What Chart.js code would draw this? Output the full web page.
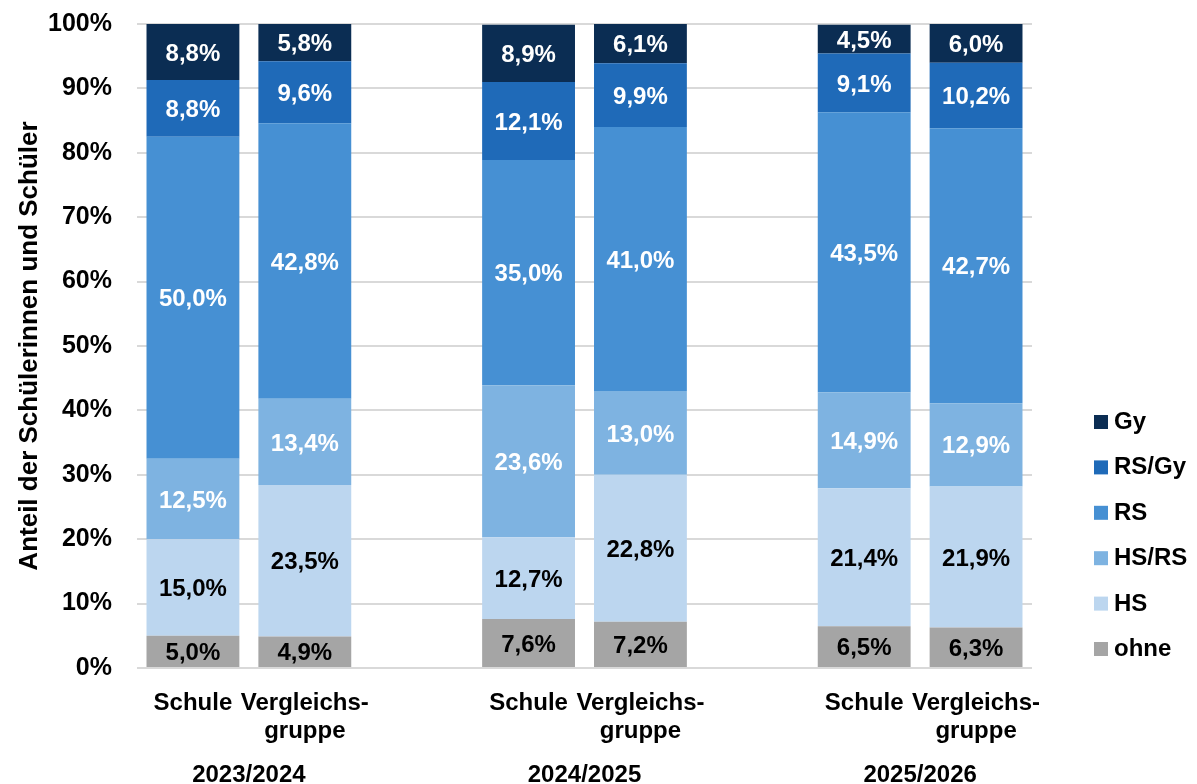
<!DOCTYPE html>
<html>
<head>
<meta charset="utf-8">
<script src="https://cdn.jsdelivr.net/npm/chart.js@4"></script>
<style>
  html, body { margin: 0; padding: 0; background: #ffffff; }
  #wrap { width: 1197px; height: 784px; position: relative; }
</style>
</head>
<body>
<div id="wrap"><canvas id="c" width="1197" height="784"></canvas></div>
<script>
const categories = ['Schule', ['Vergleichs-', 'gruppe'], '', 'Schule', ['Vergleichs-', 'gruppe'], '', 'Schule', ['Vergleichs-', 'gruppe']];
const years = ['2023/2024', '2024/2025', '2025/2026'];
const yearSlots = [[0, 1], [3, 4], [6, 7]];
const seriesNames = ['ohne', 'HS', 'HS/RS', 'RS', 'RS/Gy', 'Gy'];
const ohne = [5.0, 4.9, null, 7.6, 7.2, null, 6.5, 6.3];
const hs = [15.0, 23.5, null, 12.7, 22.8, null, 21.4, 21.9];
const hsrs = [12.5, 13.4, null, 23.6, 13.0, null, 14.9, 12.9];
const rs = [50.0, 42.8, null, 35.0, 41.0, null, 43.5, 42.7];
const rsgy = [8.8, 9.6, null, 12.1, 9.9, null, 9.1, 10.2];
const gy = [8.8, 5.8, null, 8.9, 6.1, null, 4.5, 6.0];
const yTicks = [0, 10, 20, 30, 40, 50, 60, 70, 80, 90, 100];

const colors = ['#A5A5A5', '#BCD6EF', '#7EB3E1', '#4690D3', '#1F6AB8', '#0B2D53'];
const labelColors = ['#000000', '#000000', '#ffffff', '#ffffff', '#ffffff', '#ffffff'];
const seriesData = [ohne, hs, hsrs, rs, rsgy, gy];
const FONT = '"Liberation Sans", Arial, sans-serif';

const datasets = seriesNames.map((name, i) => ({
  label: name,
  data: seriesData[i],
  backgroundColor: colors[i],
  labelColor: labelColors[i],
  borderWidth: 0,
  stack: 's',
  categoryPercentage: 1.0,
  barPercentage: 0.83
}));

const fmt = v => v.toFixed(1).replace('.', ',') + '%';

const valueLabels = {
  id: 'valueLabels',
  afterDatasetsDraw(chart) {
    const ctx = chart.ctx;
    ctx.save();
    ctx.font = 'bold 24px ' + FONT;
    ctx.textAlign = 'center';
    ctx.textBaseline = 'middle';
    chart.data.datasets.forEach((ds, i) => {
      const meta = chart.getDatasetMeta(i);
      meta.data.forEach((el, j) => {
        const v = ds.data[j];
        if (v == null) return;
        const p = el.getProps(['x', 'y', 'base'], true);
        const top = Math.max(p.y, chart.chartArea.top);
        ctx.fillStyle = ds.labelColor;
        ctx.fillText(fmt(v), p.x, (top + p.base) / 2 + 2);
      });
    });
    ctx.restore();
  }
};

const extras = {
  id: 'extras',
  afterDraw(chart) {
    const ctx = chart.ctx;
    const xs = chart.scales.x;
    ctx.save();
    // year labels
    ctx.font = 'bold 24px ' + FONT;
    ctx.fillStyle = '#000';
    ctx.textAlign = 'center';
    ctx.textBaseline = 'middle';
    years.forEach((y, k) => {
      const [a, b] = yearSlots[k];
      const x = (xs.getPixelForValue(a) + xs.getPixelForValue(b)) / 2;
      ctx.fillText(y, x, 775);
    });
    // legend (reverse order)
    ctx.textAlign = 'left';
    ctx.textBaseline = 'alphabetic';
    const n = chart.data.datasets.length;
    for (let r = 0; r < n; r++) {
      const ds = chart.data.datasets[n - 1 - r];
      const base = 429 + r * 45.4;
      ctx.fillStyle = ds.backgroundColor;
      ctx.fillRect(1094, base - 14, 14, 14);
      ctx.fillStyle = '#000';
      ctx.fillText(ds.label, 1114, base);
    }
    ctx.restore();
  }
};

new Chart(document.getElementById('c'), {
  type: 'bar',
  data: { labels: categories, datasets },
  plugins: [valueLabels, extras],
  options: {
    responsive: false,
    animation: false,
    layout: { padding: { top: 24, right: 165, bottom: 0, left: 0 } },
    plugins: {
      legend: { display: false },
      tooltip: { enabled: false }
    },
    scales: {
      x: {
        stacked: true,
        grid: { display: false, drawTicks: false },
        border: { display: false },
        ticks: {
          color: '#000',
          font: { family: FONT, size: 24, weight: 'bold', lineHeight: 1.15 },
          padding: 22,
          maxRotation: 0,
          autoSkip: false
        },
        afterFit(s) { s.height = 116; }
      },
      y: {
        stacked: true,
        min: 0,
        max: 100,
        afterBuildTicks(s) { s.ticks = yTicks.map(v => ({ value: v })); },
        grid: { color: '#D9D9D9', lineWidth: 2, drawTicks: false },
        border: { display: false },
        ticks: {
          color: '#000',
          font: { family: FONT, size: 25, weight: 'bold' },
          padding: 25,
          callback: v => v + '%'
        },
        title: {
          display: true,
          text: 'Anteil der Schülerinnen und Schüler',
          color: '#000',
          font: { family: FONT, size: 26, weight: 'bold', lineHeight: 1.2 },
          padding: { top: 14, bottom: 0 }
        },
        afterFit(s) { s.width = 137; s.paddingTop = 0; s.paddingBottom = 0; }
      }
    }
  }
});
</script>
</body>
</html>
